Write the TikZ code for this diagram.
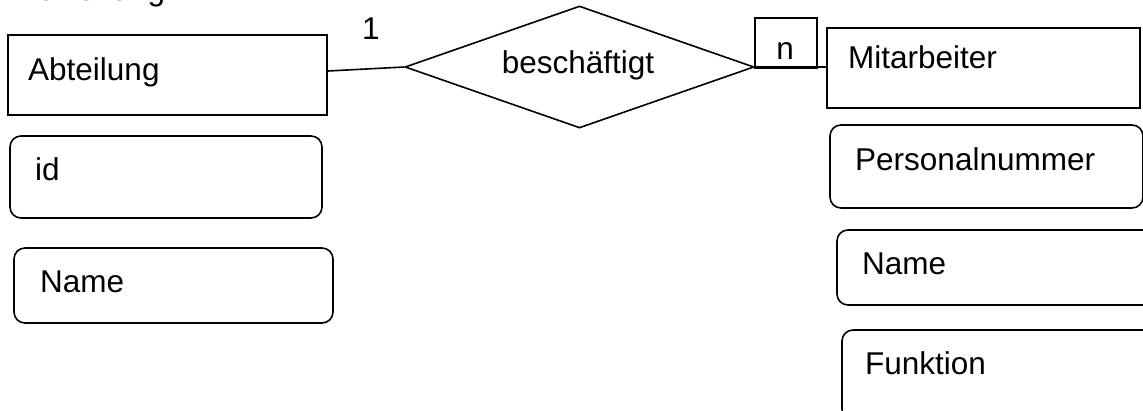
\documentclass[tikz,border=0pt]{standalone}
\usepackage{fontspec}
\setmainfont{Liberation Sans}
\usetikzlibrary{shapes.geometric}

\tikzset{
  lw/.style={line width=1.6pt},
  entbox/.style={draw, lw, rectangle, inner sep=0pt},
  attrbox/.style={draw, lw, rectangle, rounded corners=11pt, inner sep=0pt},
  relbox/.style={draw, lw, diamond, inner sep=0pt},
  lbl/.style={inner sep=0pt, anchor=base west, font=\fontsize{31.5}{38}\selectfont},
  link/.style={lw},
}

\begin{document}
\begin{tikzpicture}[x=1pt, y=-1pt]
  \useasboundingbox (0,0) rectangle (1143,410);
  \clip (0,0) rectangle (1143,410);

  % heading, mostly above the page edge
  \node[lbl] (heading) at (16,0) {Beziehung};

  % entity Abteilung and its attributes
  \node[entbox, minimum width=319pt, minimum height=80pt] (abt) at (167.5,75) {};
  \node[lbl] (abtT) at (28,80) {Abteilung};
  \node[attrbox, minimum width=312pt, minimum height=82pt] (aid) at (166,177) {};
  \node[lbl] (aidT) at (35,180) {id};
  \node[attrbox, minimum width=319pt, minimum height=75pt] (aname) at (173.5,285.5) {};
  \node[lbl] (anameT) at (40,292) {Name};

  % relationship
  \node[relbox, minimum width=349pt, minimum height=122pt] (rel) at (579.5,67) {};
  \node[lbl, anchor=base] (relT) at (578,73) {beschäftigt};

  % cardinalities
  \node[lbl] (card1) at (362,39) {1};
  \node[entbox, minimum width=62pt, minimum height=50pt] (nbox) at (786,43) {};
  \node[lbl, anchor=base] (cardn) at (785,59) {n};

  % entity Mitarbeiter and its attributes
  \node[entbox, minimum width=313pt, minimum height=80pt] (mit) at (983.5,68) {};
  \node[lbl] (mitT) at (848,68) {Mitarbeiter};
  \node[attrbox, minimum width=313pt, minimum height=83pt] (mpnr) at (986.5,166.5) {};
  \node[lbl] (mpnrT) at (855,170) {Personalnummer};
  \node[attrbox, minimum width=324pt, minimum height=75pt] (mname) at (999,267.5) {};
  \node[lbl] (mnameT) at (862,274) {Name};
  \node[attrbox, minimum width=320pt, minimum height=90pt] (mfkt) at (1002,375) {};
  \node[lbl] (mfktT) at (865,374) {Funktion};

  % connectors
  \draw[link] ([yshift=4pt]abt.east) -- (rel.west);
  \draw[link] (rel.east) -- (rel.east -| mit.west);
\end{tikzpicture}
\end{document}
